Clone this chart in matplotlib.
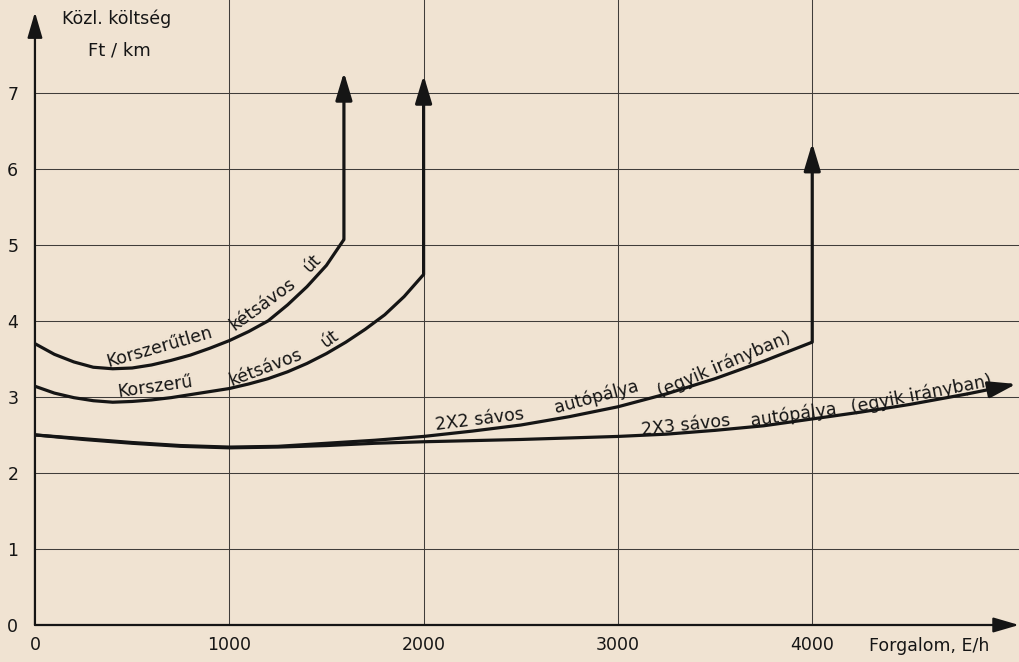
import matplotlib
matplotlib.use('Agg')
import matplotlib.pyplot as plt

# ---------------- data ----------------
x_ticks = [0, 1000, 2000, 3000, 4000]
x_tick_labels = ['0', '1000', '2000', '3000', '4000']
y_ticks = [0, 1, 2, 3, 4, 5, 6, 7]
y_tick_labels = ['0', '1', '2', '3', '4', '5', '6', '7']

# Korszerűtlen kétsávos út
x_unmod = [0, 100, 200, 300, 400, 500, 600, 700, 800, 900, 1000, 1100, 1200,
           1300, 1400, 1500, 1590]
y_unmod = [3.70, 3.56, 3.46, 3.39, 3.37, 3.38, 3.42, 3.48, 3.55, 3.64, 3.74,
           3.86, 4.00, 4.21, 4.45, 4.73, 5.07]
top_unmod = 7.27

# Korszerű kétsávos út
x_mod = [0, 100, 200, 300, 400, 500, 600, 700, 800, 900, 1000, 1100, 1200,
         1300, 1400, 1500, 1600, 1700, 1800, 1900, 2000]
y_mod = [3.14, 3.05, 2.99, 2.95, 2.93, 2.94, 2.96, 2.99, 3.03, 3.07, 3.11,
         3.17, 3.24, 3.33, 3.44, 3.57, 3.72, 3.89, 4.08, 4.32, 4.61]
top_mod = 7.23

# 2X2 sávos autópálya
x_2x2 = [0, 250, 500, 750, 1000, 1250, 1500, 1750, 2000, 2250, 2500, 2750,
         3000, 3250, 3500, 3750, 4000]
y_2x2 = [2.50, 2.45, 2.40, 2.36, 2.34, 2.35, 2.39, 2.43, 2.48, 2.55, 2.63,
         2.74, 2.87, 3.04, 3.24, 3.47, 3.72]
top_2x2 = 6.34

# 2X3 sávos autópálya
x_2x3 = [0, 250, 500, 750, 1000, 1250, 1500, 1750, 2000, 2500, 3000, 3250,
         3500, 3750, 4000, 4250, 4500, 4800, 5050]
y_2x3 = [2.50, 2.44, 2.39, 2.35, 2.33, 2.34, 2.36, 2.39, 2.41, 2.44, 2.48,
         2.51, 2.56, 2.62, 2.71, 2.80, 2.90, 3.04, 3.17]

# labels placed along curves: (text, x, y, rotation)
curve_labels = [
    ('Korszerűtlen', 640, 3.66, 16),
    ('kétsávos', 1170, 4.22, 36),
    ('út', 1425, 4.76, 46),
    ('Korszerű', 620, 3.13, 8),
    ('kétsávos', 1185, 3.39, 21),
    ('út', 1515, 3.77, 36),
    ('2X2 sávos', 2290, 2.70, 7),
    ('autópálya', 2890, 3.00, 15),
    ('(egyik irányban)', 3545, 3.42, 23),
    ('2X3 sávos', 3350, 2.63, 6),
    ('autópálya', 3905, 2.77, 8),
    ('(egyik irányban)', 4560, 3.04, 11),
]

BG = '#f0e3d2'
INK = '#151515'
GRID = '#403d3a'

plt.rcParams['font.family'] = ['DejaVu Sans']

fig = plt.figure(figsize=(10.19, 6.62), dpi=100, facecolor=BG)
ax = fig.add_axes([0.0343, 0.0559, 0.9657, 0.9441])
ax.set_facecolor(BG)
ax.set_xlim(0, 5064)
ax.set_ylim(0, 8.22)
for s in ax.spines.values():
    s.set_visible(False)

# grid
for yv in y_ticks[1:]:
    ax.plot([0, 5064], [yv, yv], color=GRID, lw=0.75, zorder=1)
for xv in x_ticks[1:]:
    ax.plot([xv, xv], [0, 8.22], color=GRID, lw=0.75, zorder=1)

# axes with arrows
arrow_kw = dict(arrowstyle='-|>,head_length=1.3,head_width=0.38', lw=1.6,
                color=INK, shrinkA=0, shrinkB=0, mutation_scale=12)
ax.annotate('', xy=(0, 8.06), xytext=(0, 0), arrowprops=arrow_kw, zorder=4,
            annotation_clip=False)
ax.annotate('', xy=(5064, 0), xytext=(0, 0), arrowprops=arrow_kw, zorder=4,
            annotation_clip=False)

curve_kw = dict(color=INK, lw=2.3, solid_capstyle='butt',
                solid_joinstyle='round', zorder=3)
head_kw = dict(arrowstyle='-|>,head_length=1.4,head_width=0.42', lw=2.3,
               color=INK, shrinkA=0, shrinkB=0, mutation_scale=12)

# curves
ax.plot(x_unmod, y_unmod, **curve_kw)
ax.annotate('', xy=(x_unmod[-1], top_unmod), xytext=(x_unmod[-1], y_unmod[-1]),
            arrowprops=head_kw, zorder=3)

ax.plot(x_mod, y_mod, **curve_kw)
ax.annotate('', xy=(x_mod[-1], top_mod), xytext=(x_mod[-1], y_mod[-1]),
            arrowprops=head_kw, zorder=3)

ax.plot(x_2x2, y_2x2, **curve_kw)
ax.annotate('', xy=(x_2x2[-1], top_2x2), xytext=(x_2x2[-1], y_2x2[-1]),
            arrowprops=head_kw, zorder=3)

ax.plot(x_2x3[:-1], y_2x3[:-1], **curve_kw)
ax.annotate('', xy=(x_2x3[-1], y_2x3[-1]), xytext=(x_2x3[-2], y_2x3[-2]),
            arrowprops=head_kw, zorder=3, annotation_clip=False)

# curve labels
for txt, xv, yv, rot in curve_labels:
    ax.text(xv, yv, txt, rotation=rot, rotation_mode='anchor', ha='center',
            va='center', fontsize=12.5, color=INK, zorder=5)

# ticks
ax.set_xticks(x_ticks)
ax.set_xticklabels(x_tick_labels)
ax.set_yticks(y_ticks)
ax.set_yticklabels(y_tick_labels)
ax.tick_params(axis='both', length=0, labelsize=12.5, colors=INK)
ax.tick_params(axis='x', pad=8)
ax.tick_params(axis='y', pad=12)

# axis titles
ax.text(4290, -0.27, 'Forgalom, E/h', ha='left', va='center', fontsize=12.5,
        color=INK, clip_on=False)
ax.text(140, 7.97, 'Közl. költség', ha='left', va='center', fontsize=12.5,
        color=INK)
ax.text(437, 7.55, 'Ft / km', ha='center', va='center', fontsize=13,
        color=INK)

fig.savefig('out.png', dpi=100, facecolor=BG)
